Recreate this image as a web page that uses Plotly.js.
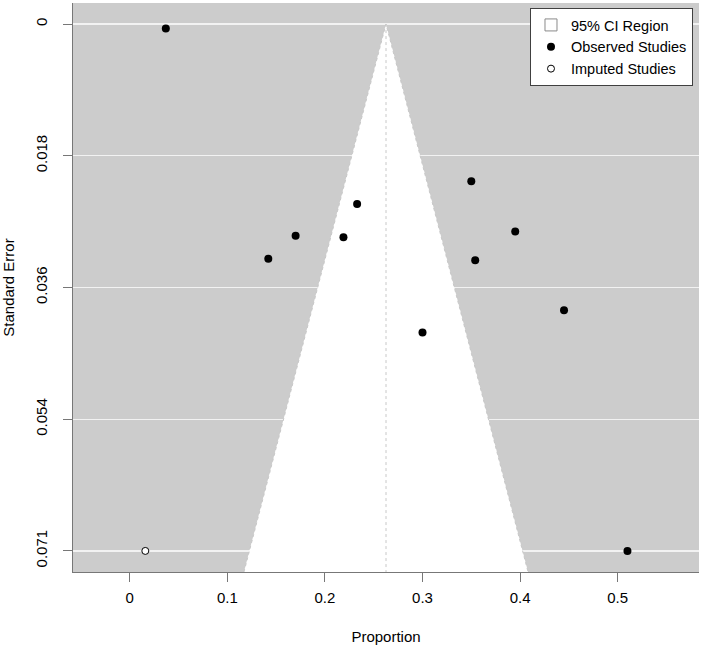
<!DOCTYPE html>
<html>
<head>
<meta charset="utf-8">
<script src="https://cdn.plot.ly/plotly-3.0.1.min.js"></script>
<style>
  html, body { margin: 0; padding: 0; background: #ffffff; }
  #chart { width: 702px; height: 649px; }
</style>
</head>
<body>
<div id="chart"></div>
<script>
// Observed studies: proportion and its standard error
const observedProportion = [0.037, 0.350, 0.233, 0.170, 0.219, 0.395, 0.142, 0.354, 0.300, 0.445, 0.510];
const observedSE         = [0.0006, 0.0213, 0.0244, 0.0287, 0.0289, 0.0281, 0.0318, 0.0320, 0.0418, 0.0388, 0.0714];

// Study added by trim-and-fill
const imputedProportion = [0.016];
const imputedSE         = [0.0714];

// Pooled estimate (funnel centre) and 95% critical value
const pooledEstimate = 0.2626;
const zCrit = 1.96;

// Y-axis ticks: five evenly spaced standard errors from 0 to the largest
const yTickVals = [0, 0.01785, 0.0357, 0.05355, 0.0714];
const yTickText = ["0", "0.018", "0.036", "0.054", "0.071"];
const xTickVals = [0, 0.1, 0.2, 0.3, 0.4, 0.5];
const xTickText = ["0", "0.1", "0.2", "0.3", "0.4", "0.5"];

// Axis ranges (4% padding around the data extent)
const maxSE = Math.max(...observedSE, ...imputedSE);
const yRange = [maxSE * 1.04, -maxSE * 0.04];
const xRange = [-0.0581, 0.5833];

// Funnel region reaches the bottom edge of the plotting area
const seBottom = yRange[0];
const funnelX = [pooledEstimate - zCrit * seBottom, pooledEstimate, pooledEstimate + zCrit * seBottom];
const funnelY = [seBottom, 0, seBottom];

const font = { family: "Liberation Sans, Arial, sans-serif", size: 15, color: "#000000" };

const traces = [
  {
    type: "scatter", mode: "lines",
    x: funnelX, y: funnelY,
    fill: "toself", fillcolor: "#ffffff",
    line: { color: "#c8c8c8", width: 1, dash: "dot" },
    showlegend: false, hoverinfo: "skip"
  },
  {
    type: "scatter", mode: "lines",
    x: [pooledEstimate, pooledEstimate], y: [0, seBottom],
    line: { color: "#c8c8c8", width: 1, dash: "dot" },
    showlegend: false, hoverinfo: "skip"
  },
  {
    type: "scatter", mode: "markers", name: "95% CI Region",
    x: [null], y: [null],
    marker: { symbol: "square", size: 12, color: "#ffffff", line: { color: "#8a8a8a", width: 1 } }
  },
  {
    type: "scatter", mode: "markers", name: "Observed Studies",
    x: observedProportion, y: observedSE,
    marker: { symbol: "circle", size: 8, color: "#000000" }
  },
  {
    type: "scatter", mode: "markers", name: "Imputed Studies",
    x: imputedProportion, y: imputedSE,
    marker: { symbol: "circle", size: 7, color: "#ffffff", line: { color: "#000000", width: 1 } }
  }
];

const layout = {
  width: 702, height: 649,
  margin: { l: 73, r: 3, t: 3, b: 77 },
  paper_bgcolor: "#ffffff",
  plot_bgcolor: "#cccccc",
  font: font,
  showlegend: true,
  legend: {
    x: 0.9904, y: 0.9912, xanchor: "right", yanchor: "top",
    bgcolor: "#ffffff", bordercolor: "#404040", borderwidth: 1,
    font: { family: font.family, size: 14.5, color: "#000000" },
    itemwidth: 30, tracegroupgap: 0
  },
  xaxis: {
    range: xRange,
    tickmode: "array", tickvals: xTickVals, ticktext: xTickText,
    ticks: "outside", ticklen: 9, tickcolor: "#777777", tickwidth: 1,
    ticklabelstandoff: 3,
    showline: true, linecolor: "#777777", linewidth: 1,
    showgrid: false, zeroline: false,
    tickfont: font,
    title: { text: "Proportion", font: font, standoff: 26 }
  },
  yaxis: {
    range: yRange,
    tickmode: "array", tickvals: yTickVals, ticktext: yTickText,
    tickangle: -90,
    ticks: "outside", ticklen: 9, tickcolor: "#777777", tickwidth: 1,
    ticklabelstandoff: 10,
    showline: true, linecolor: "#777777", linewidth: 1,
    showgrid: true, gridcolor: "#f2f2f2", gridwidth: 1.2,
    zeroline: false,
    tickfont: font,
    title: { text: "Standard Error", font: font, standoff: 14 }
  }
};

Plotly.newPlot("chart", traces, layout, { displayModeBar: false, staticPlot: true });
</script>
</body>
</html>
